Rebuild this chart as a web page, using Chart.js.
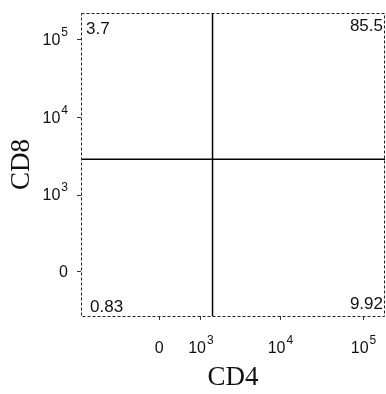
<!DOCTYPE html>
<html>
<head>
<meta charset="utf-8">
<script src="https://cdn.jsdelivr.net/npm/chart.js@4.4.1/dist/chart.umd.min.js"></script>
<style>
  html, body { margin: 0; padding: 0; background: #fff; }
</style>
</head>
<body>
<canvas id="flowChart" width="386" height="394"></canvas>
<script>
// tick values (raw fluorescence) and their labels, [base, exponent]
const xTickValues = [0, 1e3, 1e4, 1e5];
const xTickLabels = [['0', ''], ['10', '3'], ['10', '4'], ['10', '5']];
const yTickValues = [0, 1e3, 1e4, 1e5];
const yTickLabels = [['0', ''], ['10', '3'], ['10', '4'], ['10', '5']];

// gate position (raw units) and quadrant percentages: UL, UR, LL, LR
const gateX = [1450];
const gateY = [2900];
const quadrantValues = ['3.7', '85.5', '0.83', '9.92'];

// axis ranges in raw units
const xRange = [-3010, 181000];
const yRange = [-355, 217000];

// biexponential-like display transform
const tx = v => Math.asinh(v / 700);
const ty = v => Math.asinh(v / 209);

const sans = '"Liberation Sans", Arial, sans-serif';
const serif = '"Liberation Serif", "Times New Roman", serif';

function drawPow(ctx, base, exp, x, y, align) {
    ctx.font = '16px ' + sans;
    const bw = ctx.measureText(base).width;
    ctx.font = '12px ' + sans;
    const ew = exp ? ctx.measureText(exp).width + 1 : 0;
    const w = bw + ew;
    let left = x - w / 2;
    if (align === 'right') left = x - w;
    ctx.textAlign = 'left';
    ctx.textBaseline = 'middle';
    ctx.font = '16px ' + sans;
    ctx.fillText(base, left, y);
    if (exp) {
        ctx.font = '12px ' + sans;
        ctx.fillText(exp, left + bw + 1, y - 8);
    }
}

const decorations = {
    id: 'decorations',
    afterDatasetsDraw(chart) {
        const { ctx, chartArea: a, scales } = chart;
        ctx.save();
        ctx.strokeStyle = '#222';
        ctx.lineWidth = 1;
        ctx.setLineDash([3, 2]);
        ctx.strokeRect(a.left + 0.5, a.top + 0.5, a.right - a.left - 1, a.bottom - a.top);
        ctx.setLineDash([]);

        ctx.fillStyle = '#111';
        // tick labels
        xTickValues.forEach((v, i) => {
            const px = scales.x.getPixelForValue(tx(v));
            drawPow(ctx, xTickLabels[i][0], xTickLabels[i][1], px, 349, 'center');
        });
        yTickValues.forEach((v, i) => {
            const py = scales.y.getPixelForValue(ty(v));
            drawPow(ctx, yTickLabels[i][0], yTickLabels[i][1], 68, py + 1, 'right');
        });

        // quadrant percentages
        ctx.font = '17px ' + sans;
        ctx.textBaseline = 'top';
        ctx.textAlign = 'left';
        ctx.fillText(quadrantValues[0], a.left + 5, a.top + 8);
        ctx.textAlign = 'right';
        ctx.fillText(quadrantValues[1], a.right - 2, a.top + 5);
        ctx.textBaseline = 'bottom';
        ctx.textAlign = 'left';
        ctx.fillText(quadrantValues[2], a.left + 9, a.bottom);
        ctx.textAlign = 'right';
        ctx.fillText(quadrantValues[3], a.right - 2, a.bottom - 3);
        ctx.restore();
    }
};

const ctx = document.getElementById('flowChart').getContext('2d');
const flowChart = new Chart(ctx, {
    type: 'scatter',
    data: {
        datasets: [
            {
                // vertical gate
                data: [{ x: tx(gateX[0]), y: ty(yRange[0]) }, { x: tx(gateX[0]), y: ty(yRange[1]) }],
                showLine: true,
                borderColor: '#000',
                borderWidth: 1.5,
                pointRadius: 0
            },
            {
                // horizontal gate
                data: [{ x: tx(xRange[0]), y: ty(gateY[0]) }, { x: tx(xRange[1]), y: ty(gateY[0]) }],
                showLine: true,
                borderColor: '#000',
                borderWidth: 1.5,
                pointRadius: 0
            }
        ]
    },
    options: {
        responsive: false,
        animation: false,
        events: [],
        layout: { padding: { top: 13, right: 1, left: 0, bottom: 0 } },
        plugins: {
            legend: { display: false },
            tooltip: { enabled: false }
        },
        scales: {
            x: {
                type: 'linear',
                min: tx(xRange[0]),
                max: tx(xRange[1]),
                afterBuildTicks: scale => {
                    scale.ticks = xTickValues.map(v => ({ value: tx(v) }));
                },
                afterFit: scale => {
                    scale.height = 78;
                    scale.paddingLeft = scale.paddingRight = 0;
                },
                ticks: { display: false },
                grid: { drawOnChartArea: false, color: '#333', tickLength: 4 },
                border: { display: false },
                title: {
                    display: true,
                    text: 'CD4',
                    color: '#111',
                    font: { family: serif, size: 27 },
                    padding: { top: 0, bottom: 0 }
                }
            },
            y: {
                type: 'linear',
                min: ty(yRange[0]),
                max: ty(yRange[1]),
                afterBuildTicks: scale => {
                    scale.ticks = yTickValues.map(v => ({ value: ty(v) }));
                },
                afterFit: scale => {
                    scale.width = 81;
                    scale.paddingTop = scale.paddingBottom = 0;
                },
                ticks: { display: false },
                grid: { drawOnChartArea: false, color: '#333', tickLength: 4 },
                border: { display: false },
                title: {
                    display: true,
                    text: 'CD8',
                    color: '#111',
                    font: { family: serif, size: 27 },
                    padding: { top: 6, bottom: 0 }
                }
            }
        }
    },
    plugins: [decorations]
});
</script>
</body>
</html>
